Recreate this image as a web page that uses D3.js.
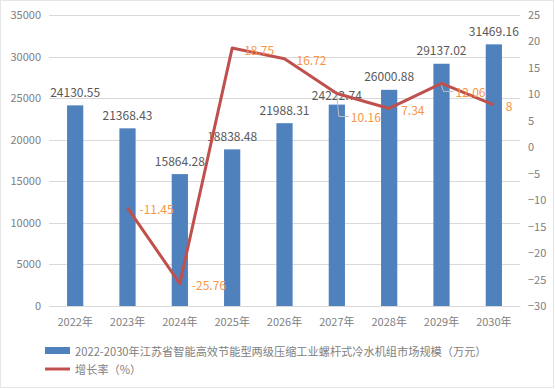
<!DOCTYPE html>
<html>
<head>
<meta charset="utf-8">
<script src="https://cdn.jsdelivr.net/npm/d3@7"></script>
<style>
  body { margin: 0; background: #fff; }
  text { font-family: "Noto Sans CJK SC", "Noto Sans", sans-serif; }
</style>
</head>
<body>
<script>
var width = 555,
    height = 389;

var margin = {top: 15, right: 35, bottom: 83, left: 49},
    graphWidth = width - margin.left - margin.right,
    graphHeight = height - margin.top - margin.bottom;

var years = ["2022年", "2023年", "2024年", "2025年", "2026年", "2027年", "2028年", "2029年", "2030年"];
var marketSize = [24130.55, 21368.43, 15864.28, 18838.48, 21988.31, 24222.74, 26000.88, 29137.02, 31469.16];
var growthRate = [null, -11.45, -25.76, 18.75, 16.72, 10.16, 7.34, 12.06, 8];
var leftTicks = [0, 5000, 10000, 15000, 20000, 25000, 30000, 35000];
var rightTicks = [-30, -25, -20, -15, -10, -5, 0, 5, 10, 15, 20, 25];
var barLegend = "2022-2030年江苏省智能高效节能型两级压缩工业螺杆式冷水机组市场规模（万元）";
var lineLegend = "增长率（%）";

var svg = d3.select("body").append("svg")
  .attr("width", width)
  .attr("height", height)
  .attr("id", "canvas");

// outer border
svg.append("rect")
  .attr("x", 0.5).attr("y", 0.5)
  .attr("width", width - 2).attr("height", height - 2)
  .attr("fill", "#fff")
  .attr("stroke", "#e6e6e6");

var g = svg.append("g")
  .attr("transform", "translate(" + margin.left + "," + margin.top + ")");

var xScale = d3.scaleBand()
  .domain(years)
  .range([0, graphWidth])
  .paddingInner(0.69)
  .paddingOuter(0.345);

var yScale = d3.scaleLinear()
  .domain([0, 35000])
  .range([graphHeight, 0]);

var y2Scale = d3.scaleLinear()
  .domain([-30, 25])
  .range([graphHeight, 0]);

var cx = function(i) { return xScale(years[i]) + xScale.bandwidth() / 2; };

// gridlines
g.selectAll(".grid")
  .data(leftTicks)
  .enter().append("line")
  .attr("class", "grid")
  .attr("x1", 0).attr("x2", graphWidth)
  .attr("y1", function(d) { return Math.round(yScale(d)) + 0.5; })
  .attr("y2", function(d) { return Math.round(yScale(d)) + 0.5; })
  .attr("stroke", "#d9d9d9")
  .attr("stroke-width", 1);

// left axis
var yAxis = g.append("g")
  .call(d3.axisLeft(yScale).tickValues(leftTicks).tickFormat(d3.format("d")).tickSize(0).tickPadding(8));
yAxis.select(".domain").remove();
yAxis.selectAll("text").attr("fill", "#808080").style("font-size", "11px");

// right axis
var y2Axis = g.append("g")
  .attr("transform", "translate(" + graphWidth + ",0)")
  .call(d3.axisRight(y2Scale).tickValues(rightTicks).tickFormat(d3.format("d")).tickSize(0).tickPadding(8));
y2Axis.select(".domain").remove();
y2Axis.selectAll("text").attr("fill", "#808080").style("font-size", "11px");

// x axis
var xAxis = g.append("g")
  .attr("transform", "translate(0," + graphHeight + ")")
  .call(d3.axisBottom(xScale).tickSize(0).tickPadding(12));
xAxis.select(".domain").attr("stroke", "#d9d9d9");
xAxis.selectAll("text").attr("fill", "#808080").style("font-size", "11px");

// bars
g.selectAll(".bar")
  .data(marketSize)
  .enter().append("rect")
  .attr("class", "bar")
  .attr("x", function(d, i) { return xScale(years[i]); })
  .attr("y", function(d) { return yScale(d); })
  .attr("width", xScale.bandwidth())
  .attr("height", function(d) { return graphHeight - yScale(d); })
  .attr("fill", "#4f81bd");

// bar labels
g.selectAll(".barLabel")
  .data(marketSize)
  .enter().append("text")
  .attr("class", "barLabel")
  .attr("x", function(d, i) { return cx(i); })
  .attr("y", function(d, i) { return yScale(d) - (i == 5 ? 10 : 14); })
  .attr("text-anchor", "middle")
  .attr("dominant-baseline", "central")
  .attr("fill", "#595959")
  .style("font-size", "12px")
  .text(function(d) { return d.toFixed(2); });

// growth line
var linePts = growthRate.map(function(d, i) { return {i: i, v: d}; })
  .filter(function(d) { return d.v != null; });

var line = d3.line()
  .x(function(d) { return cx(d.i); })
  .y(function(d) { return y2Scale(d.v); });

g.append("path")
  .datum(linePts)
  .attr("d", line)
  .attr("fill", "none")
  .attr("stroke", "#c0504d")
  .attr("stroke-width", 3)
  .attr("stroke-linejoin", "round");

// leader lines for shifted labels
[5, 7].forEach(function(i) {
  var px = cx(i), py = y2Scale(growthRate[i]);
  var ly = py + (i == 5 ? 23 : 8);
  g.append("polyline")
    .attr("points", [[px, py + 2], [px + 2, ly], [px + 12, ly]].join(" "))
    .attr("fill", "none")
    .attr("stroke", "#bfbfbf")
    .attr("stroke-width", 1);
});

// growth labels
g.selectAll(".rateLabel")
  .data(linePts)
  .enter().append("text")
  .attr("class", "rateLabel")
  .attr("x", function(d) { return cx(d.i) + (d.i == 5 || d.i == 7 ? 14 : 12); })
  .attr("y", function(d) {
    var y = y2Scale(d.v);
    if (d.i == 5) return y + 23;
    if (d.i == 7) return y + 8;
    return y + 1;
  })
  .attr("dominant-baseline", "central")
  .attr("fill", "#f79646")
  .style("font-size", "12px")
  .text(function(d) { return d.v; });

// legend
var legend = svg.append("g").attr("transform", "translate(45,351)");
legend.append("rect")
  .attr("x", 0).attr("y", -4)
  .attr("width", 25).attr("height", 7)
  .attr("fill", "#4f81bd");
legend.append("text")
  .attr("x", 30).attr("y", 0)
  .attr("dominant-baseline", "central")
  .attr("fill", "#808080")
  .style("font-size", "11.2px")
  .text(barLegend);
legend.append("line")
  .attr("x1", 0).attr("x2", 25)
  .attr("y1", 18).attr("y2", 18)
  .attr("stroke", "#c0504d")
  .attr("stroke-width", 3);
legend.append("text")
  .attr("x", 30).attr("y", 18)
  .attr("dominant-baseline", "central")
  .attr("fill", "#808080")
  .style("font-size", "11.2px")
  .text(lineLegend);
</script>
</body>
</html>
